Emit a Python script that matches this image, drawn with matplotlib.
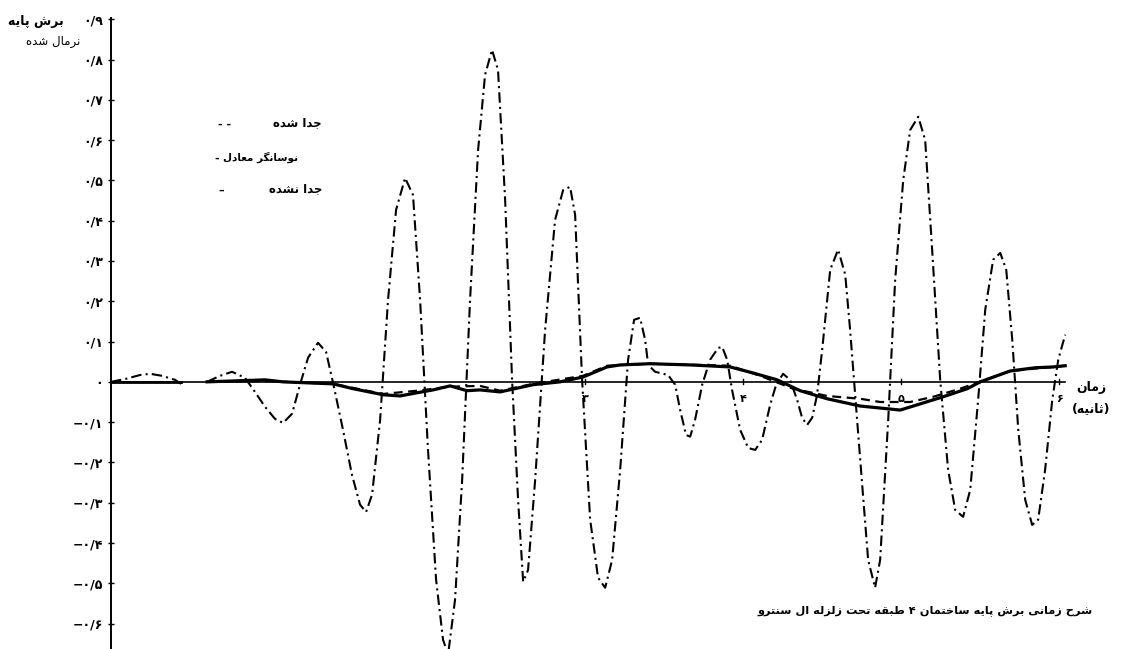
import matplotlib
matplotlib.use("Agg")
import matplotlib.pyplot as plt
from matplotlib import font_manager, ft2font

# ---------------------------------------------------------------
# data (time in s, normalised shear)
# ---------------------------------------------------------------
# equivalent oscillator (dash-dot), first short piece then main record
osc_t1 = [0.0, 0.089, 0.184, 0.247, 0.323, 0.405, 0.443]
osc_v1 = [0.0, 0.007, 0.017, 0.02, 0.015, 0.005, -0.005]

osc_t2 = [0.608, 0.690, 0.766, 0.848, 0.911, 0.975, 1.038, 1.089, 1.146, 1.196,
          1.247, 1.310, 1.361, 1.405, 1.468, 1.525, 1.576, 1.614, 1.652, 1.703,
          1.753, 1.804, 1.861, 1.911, 1.956, 2.006, 2.057, 2.101, 2.133, 2.177,
          2.222, 2.272, 2.323, 2.367, 2.411, 2.449, 2.494, 2.538, 2.576, 2.608,
          2.639, 2.684, 2.747, 2.810, 2.861, 2.905, 2.937, 2.981, 3.032, 3.082,
          3.127, 3.171, 3.222, 3.272, 3.310, 3.348, 3.380, 3.399, 3.443, 3.525,
          3.570, 3.601, 3.639, 3.665, 3.696, 3.741, 3.791, 3.842, 3.867, 3.899,
          3.930, 3.981, 4.032, 4.076, 4.120, 4.171, 4.209, 4.253, 4.297, 4.342,
          4.373, 4.405, 4.437, 4.468, 4.500, 4.551, 4.601, 4.646, 4.677, 4.741,
          4.791, 4.835, 4.867, 4.918, 4.962, 5.013, 5.057, 5.108, 5.152, 5.196,
          5.247, 5.297, 5.342, 5.392, 5.437, 5.487, 5.532, 5.582, 5.627, 5.665,
          5.703, 5.741, 5.785, 5.829, 5.867, 5.911, 5.956, 5.994, 6.038]
osc_v2 = [0.0, 0.015, 0.025, 0.01, -0.025, -0.062, -0.092, -0.102, -0.079, -0.007,
          0.06, 0.097, 0.074, -0.002, -0.119, -0.231, -0.305, -0.323, -0.28, -0.094,
          0.203, 0.427, 0.506, 0.464, 0.203, -0.169, -0.491, -0.640, -0.677, -0.541,
          -0.243, 0.203, 0.576, 0.762, 0.824, 0.774, 0.452, 0.005, -0.293, -0.496,
          -0.467, -0.243, 0.129, 0.402, 0.476, 0.484, 0.414, 0.005, -0.342, -0.486,
          -0.511, -0.442, -0.218, 0.055, 0.154, 0.159, 0.104, 0.042, 0.025, 0.017,
          -0.007, -0.069, -0.132, -0.136, -0.094, -0.007, 0.055, 0.084, 0.087, 0.055,
          -0.02, -0.119, -0.164, -0.169, -0.144, -0.057, -0.007, 0.02, 0.005, -0.045,
          -0.089, -0.107, -0.089, -0.032, 0.079, 0.278, 0.328, 0.266, 0.129, -0.194,
          -0.442, -0.511, -0.442, -0.094, 0.253, 0.501, 0.625, 0.658, 0.6, 0.328,
          0.005, -0.218, -0.318, -0.335, -0.268, -0.045, 0.179, 0.303, 0.32, 0.278,
          0.104, -0.119, -0.293, -0.355, -0.342, -0.218, -0.045, 0.055, 0.117]

# not separated (solid)
solid_t = [0.608, 0.753, 0.975, 1.089, 1.405, 1.532, 1.722, 1.829, 1.937, 2.038,
           2.146, 2.253, 2.335, 2.462, 2.671, 2.842, 2.987, 3.139, 3.222, 3.411,
           3.665, 3.918, 4.063, 4.215, 4.361, 4.532, 4.741, 4.994, 5.266, 5.418,
           5.500, 5.690, 5.848, 5.962, 6.038]
solid_v = [0.0, 0.002, 0.005, 0.0, -0.005, -0.017, -0.032, -0.035, -0.027, -0.02,
           -0.01, -0.022, -0.02, -0.025, -0.007, 0.0, 0.012, 0.037, 0.042, 0.045,
           0.042, 0.037, 0.022, 0.005, -0.022, -0.042, -0.06, -0.07, -0.037, -0.017,
           0.0, 0.027, 0.035, 0.037, 0.04]

# separated (dashed)
dash_t = [0.608, 0.975, 1.405, 1.722, 1.937, 2.146, 2.335, 2.462, 2.671, 2.987,
          3.139, 3.411, 3.918, 4.108, 4.316, 4.532, 4.741, 4.867, 5.057, 5.203,
          5.373, 5.481, 5.690, 5.962, 6.038]
dash_v = [0.0, 0.002, -0.005, -0.03, -0.022, -0.012, -0.01, -0.022, -0.005, 0.015,
          0.04, 0.045, 0.04, 0.015, -0.017, -0.035, -0.042, -0.05, -0.05, -0.037,
          -0.017, -0.002, 0.027, 0.037, 0.04]

early_t = [0.0, 0.443]
early_v = [0.0, 0.0]

y_ticks = [0.9, 0.8, 0.7, 0.6, 0.5, 0.4, 0.3, 0.2, 0.1, 0.0,
           -0.1, -0.2, -0.3, -0.4, -0.5, -0.6]
x_ticks = [3, 4, 5, 6]

ylabel_lines = ["برش پایه", "نرمال شده"]
legend_labels = ["جدا شده", "نوسانگر معادل", "جدا نشده"]
legend_marks = ["- -", "-", "–"]
xlabel_lines = ["زمان", "(ثانیه)"]
caption = "شرح زمانی برش پایه ساختمان ۴ طبقه تحت زلزله ال سنترو"

# ---------------------------------------------------------------
# minimal Persian shaping (matplotlib has no bidi / joining)
# forms: isolated, final, initial, medial
# ---------------------------------------------------------------
FORMS = {
    'ا': (0xFE8D, 0xFE8E, None, None),
    'ب': (0xFE8F, 0xFE90, 0xFE91, 0xFE92),
    'پ': (0xFB56, 0xFB57, 0xFB58, 0xFB59),
    'ت': (0xFE95, 0xFE96, 0xFE97, 0xFE98),
    'ث': (0xFE99, 0xFE9A, 0xFE9B, 0xFE9C),
    'ج': (0xFE9D, 0xFE9E, 0xFE9F, 0xFEA0),
    'ح': (0xFEA1, 0xFEA2, 0xFEA3, 0xFEA4),
    'خ': (0xFEA5, 0xFEA6, 0xFEA7, 0xFEA8),
    'د': (0xFEA9, 0xFEAA, None, None),
    'ر': (0xFEAD, 0xFEAE, None, None),
    'ز': (0xFEAF, 0xFEB0, None, None),
    'س': (0xFEB1, 0xFEB2, 0xFEB3, 0xFEB4),
    'ش': (0xFEB5, 0xFEB6, 0xFEB7, 0xFEB8),
    'ط': (0xFEC1, 0xFEC2, 0xFEC3, 0xFEC4),
    'ع': (0xFEC9, 0xFECA, 0xFECB, 0xFECC),
    'ق': (0xFED5, 0xFED6, 0xFED7, 0xFED8),
    'ک': (0xFB8E, 0xFB8F, 0xFB90, 0xFB91),
    'گ': (0xFB92, 0xFB93, 0xFB94, 0xFB95),
    'ل': (0xFEDD, 0xFEDE, 0xFEDF, 0xFEE0),
    'م': (0xFEE1, 0xFEE2, 0xFEE3, 0xFEE4),
    'ن': (0xFEE5, 0xFEE6, 0xFEE7, 0xFEE8),
    'ه': (0xFEE9, 0xFEEA, 0xFEEB, 0xFEEC),
    'و': (0xFEED, 0xFEEE, None, None),
    'ی': (0xFBFC, 0xFBFD, 0xFBFE, 0xFBFF),
}
YEH_FALLBACK = (0xFEEF, 0xFEF0, 0xFEF3, 0xFEF4)

FONT = "DejaVu Sans"
_cmap = ft2font.FT2Font(font_manager.findfont(
    font_manager.FontProperties(family=FONT, weight="bold"))).get_charmap()


def shape(text):
    out = []
    for i, ch in enumerate(text):
        if ch not in FORMS:
            out.append({'(': ')', ')': '('}.get(ch, ch))
            continue
        forms = FORMS[ch]
        prev = text[i - 1] if i > 0 else ''
        nxt = text[i + 1] if i + 1 < len(text) else ''
        join_prev = prev in FORMS and FORMS[prev][2] is not None
        join_next = nxt in FORMS and forms[2] is not None
        k = 3 if (join_prev and join_next) else 1 if join_prev else 2 if join_next else 0
        code = forms[k]
        if code not in _cmap and ch == 'ی':
            code = YEH_FALLBACK[k]
        out.append(chr(code) if code in _cmap else ch)
    return "".join(reversed(out))


FA_DIGITS = "۰۱۲۳۴۵۶۷۸۹"


def fa_num(v):
    if abs(v) < 1e-9:
        return "۰"
    s = "۰/" + FA_DIGITS[int(round(abs(v) * 10))]
    return ("−" + s) if v < 0 else s


# ---------------------------------------------------------------
# figure
# ---------------------------------------------------------------
W, H = 1126, 649
fig = plt.figure(figsize=(W / 100, H / 100), dpi=100)
fig.patch.set_facecolor("white")

ax = fig.add_axes([111 / W, 0.0, 964 / W, 1 - 18 / H])
ax.set_xlim(0, 6.1)
ax.set_ylim(-0.663, 0.903)

for s in ["top", "right", "bottom"]:
    ax.spines[s].set_visible(False)
ax.spines["left"].set_linewidth(1.4)

ax.axhline(0, xmin=0, xmax=0.99, color="black", lw=1.2)

dd = (0, (5, 2, 1, 2))
ax.plot(osc_t1, osc_v1, color="black", lw=1.5, ls=dd)
ax.plot(osc_t2, osc_v2, color="black", lw=1.5, ls=dd)
ax.plot(early_t, early_v, color="black", lw=2.0)
ax.plot(dash_t, dash_v, color="black", lw=1.6, ls=(0, (4, 2.5)))
ax.plot(solid_t, solid_v, color="black", lw=2.3)

ax.set_yticks(y_ticks)
ax.set_yticklabels([fa_num(v) for v in y_ticks], fontsize=9,
                   fontweight="bold", family=FONT)
ax.tick_params(axis="y", direction="inout", length=5, width=1, pad=3)

ax.set_xticks([])
for t in x_ticks:
    ax.plot([t, t], [-0.006, 0.006], color="black", lw=1)
    ax.annotate(FA_DIGITS[t], (t, 0), xytext=(0, -12), textcoords="offset points",
                ha="center", va="center", fontsize=8, fontweight="bold", family=FONT)


def px(x, y):
    return x / W, 1 - y / H


# y-axis title
fig.text(*px(64, 22), shape(ylabel_lines[0]), ha="right", va="center",
         fontsize=9, fontweight="bold", family=FONT)
fig.text(*px(80, 42), shape(ylabel_lines[1]), ha="right", va="center",
         fontsize=8.5, family=FONT)

# legend (drawn as plain text like the scan)
leg_pos = [(322, 123), (298, 157), (322, 189)]
leg_size = [8.5, 7.5, 8.5]
mark_x = [218, 214, 218]
for (lx, ly), lab, mk, fs, mx in zip(leg_pos, legend_labels, legend_marks,
                                     leg_size, mark_x):
    fig.text(*px(lx, ly), shape(lab), ha="right", va="center",
             fontsize=fs, fontweight="bold", family=FONT)
    fig.text(*px(mx, ly + 2), mk, ha="left", va="center",
             fontsize=8, fontweight="bold", family=FONT)

# x-axis title
fig.text(*px(1091, 387), shape(xlabel_lines[0]), ha="center", va="center",
         fontsize=9, fontweight="bold", family=FONT)
fig.text(*px(1091, 409), shape(xlabel_lines[1]), ha="center", va="center",
         fontsize=9, fontweight="bold", family=FONT)

# caption
fig.text(*px(1093, 611), shape(caption), ha="right", va="center",
         fontsize=8.2, fontweight="bold", family=FONT)

fig.savefig("out.png", dpi=100, facecolor="white")
